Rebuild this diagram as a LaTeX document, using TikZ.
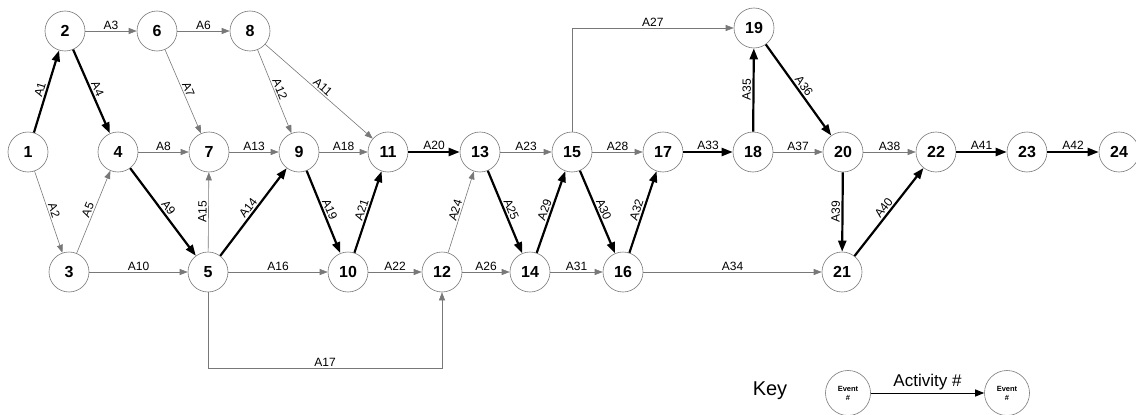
\documentclass[tikz,border=0pt]{standalone}
\usepackage{fontspec}
\setmainfont{Liberation Sans}
\usepackage{tikz}
\usetikzlibrary{arrows.meta,positioning,calc}
\definecolor{net-gray}{RGB}{120,120,120}

\begin{document}
\begin{tikzpicture}[x=1pt, y=-1pt,
  event/.style={circle, draw=net-gray, line width=0.6pt, minimum size=40pt, inner sep=0pt, font=\fontsize{16}{16}\selectfont\bfseries},
  keyevent/.style={circle, draw=net-gray, line width=0.6pt, minimum size=45pt, inner sep=0pt, align=center, font=\fontsize{7.5}{9}\selectfont\bfseries},
  act/.style={draw=net-gray, line width=0.6pt, -{Triangle[length=8pt,width=6pt]}},
  crit/.style={draw=black, line width=2.2pt, -{Triangle[length=11pt,width=8pt]}},
  lab/.style={above, sloped, inner sep=1.5pt, font=\fontsize{12}{12}\selectfont}]
  \useasboundingbox (0,0) rectangle (1136,415);

  % Events
  \node[event] (e1) at (28,152) {1};
  \node[event] (e2) at (65,31) {2};
  \node[event] (e3) at (69,272) {3};
  \node[event] (e4) at (118,152) {4};
  \node[event] (e5) at (208,272) {5};
  \node[event] (e6) at (157,31) {6};
  \node[event] (e7) at (209,152) {7};
  \node[event] (e8) at (250,31) {8};
  \node[event] (e9) at (299,152) {9};
  \node[event] (e10) at (348,272) {10};
  \node[event] (e11) at (388,152) {11};
  \node[event] (e12) at (442,272) {12};
  \node[event] (e13) at (480,152) {13};
  \node[event] (e14) at (530,272) {14};
  \node[event] (e15) at (572,152) {15};
  \node[event] (e16) at (623,272) {16};
  \node[event] (e17) at (663,152) {17};
  \node[event] (e18) at (753,152) {18};
  \node[event] (e19) at (754,28) {19};
  \node[event] (e20) at (843,152) {20};
  \node[event] (e21) at (842,272) {21};
  \node[event] (e22) at (936,152) {22};
  \node[event] (e23) at (1027,152) {23};
  \node[event] (e24) at (1119,152) {24};

  % Activities
  \draw[crit] (e1) -- node[lab] {A1} (e2);
  \draw[act] (e1) -- node[lab] {A2} (e3);
  \draw[act] (e2) -- node[lab] {A3} (e6);
  \draw[crit] (e2) -- node[lab] {A4} (e4);
  \draw[act] (e3) -- node[lab] {A5} (e4);
  \draw[act] (e6) -- node[lab] {A6} (e8);
  \draw[act] (e6) -- node[lab] {A7} (e7);
  \draw[act] (e4) -- node[lab] {A8} (e7);
  \draw[crit] (e4) -- node[lab] {A9} (e5);
  \draw[act] (e3) -- node[lab] {A10} (e5);
  \draw[act] (e8) -- node[lab] {A11} (e11);
  \draw[act] (e8) -- node[lab] {A12} (e9);
  \draw[act] (e7) -- node[lab] {A13} (e9);
  \draw[crit] (e5) -- node[lab] {A14} (e9);
  \draw[act] (e5) -- node[lab] {A15} (e7);
  \draw[act] (e5) -- node[lab] {A16} (e10);
  \draw[act] (e5) -- ++(0,96) -| node[lab, pos=0.25] {A17} (e12);
  \draw[act] (e9) -- node[lab] {A18} (e11);
  \draw[crit] (e9) -- node[lab] {A19} (e10);
  \draw[crit] (e11) -- node[lab] {A20} (e13);
  \draw[crit] (e10) -- node[lab] {A21} (e11);
  \draw[act] (e10) -- node[lab] {A22} (e12);
  \draw[act] (e13) -- node[lab] {A23} (e15);
  \draw[act] (e12) -- node[lab] {A24} (e13);
  \draw[crit] (e13) -- node[lab] {A25} (e14);
  \draw[act] (e12) -- node[lab] {A26} (e14);
  \draw[act] (e15) |- node[lab, pos=0.75] {A27} (e19);
  \draw[act] (e15) -- node[lab] {A28} (e17);
  \draw[crit] (e14) -- node[lab] {A29} (e15);
  \draw[crit] (e15) -- node[lab] {A30} (e16);
  \draw[act] (e14) -- node[lab] {A31} (e16);
  \draw[crit] (e16) -- node[lab] {A32} (e17);
  \draw[crit] (e17) -- node[lab] {A33} (e18);
  \draw[act] (e16) -- node[lab] {A34} (e21);
  \draw[crit] (e18) -- node[lab] {A35} (e19);
  \draw[crit] (e19) -- node[lab] {A36} (e20);
  \draw[act] (e18) -- node[lab] {A37} (e20);
  \draw[act] (e20) -- node[lab] {A38} (e22);
  \draw[crit] (e20) -- node[lab] {A39} (e21);
  \draw[crit] (e21) -- node[lab] {A40} (e22);
  \draw[crit] (e22) -- node[lab] {A41} (e23);
  \draw[crit] (e23) -- node[lab] {A42} (e24);

  % Key
  \node[font=\fontsize{20}{20}\selectfont] (key) at (770,391) {Key};
  \node[keyevent] (kfrom) at (848,393) {Event\\\#};
  \node[keyevent] (kto) at (1007,393) {Event\\\#};
  \draw[draw=black, line width=1pt, -{Triangle[length=9pt,width=7pt]}] (kfrom) -- node[above, inner sep=2pt, font=\fontsize{17}{17}\selectfont] {Activity \#} (kto);
\end{tikzpicture}
\end{document}
